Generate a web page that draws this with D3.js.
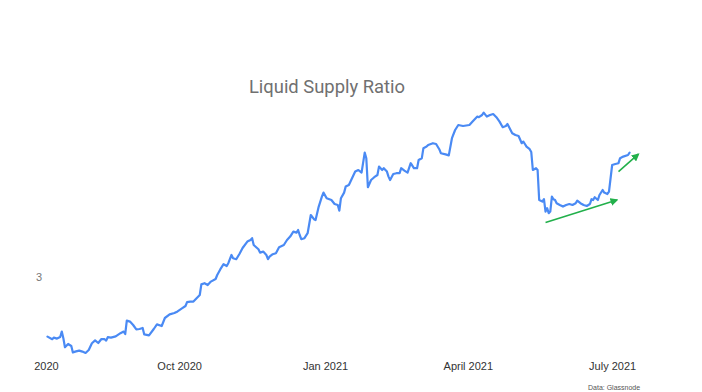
<!DOCTYPE html>
<html>
<head>
<meta charset="utf-8">
<script src="https://cdn.jsdelivr.net/npm/d3@7"></script>
<style>
  html, body { margin: 0; padding: 0; background: #ffffff; }
  svg { display: block; }
</style>
</head>
<body>
<svg id="chart" width="702" height="392"></svg>
<script>
// ---- data ----
const startDate = "2020-07-10"; // day 0 of the series
const dayOffsets = [0,3,4,6,8,9,10,11,13,15,16,18,20,22,24,26,28,30,32,34,36,37,38,40,43,46,48,49,50,52,54,56,58,60,61,64,67,69,72,74,77,80,82,85,87,88,90,92,94,96,97,99,101,103,106,107,109,111,113,114,116,117,119,121,123,126,128,129,130,133,134,136,138,139,140,142,144,146,149,151,153,155,157,158,159,160,162,164,166,168,169,171,173,174,176,179,181,183,184,185,187,188,190,192,194,196,198,200,201,202,204,206,208,209,211,212,214,215,216,218,220,222,223,225,227,229,231,233,234,236,237,239,240,243,245,247,248,251,253,255,257,259,262,266,268,271,272,274,275,277,279,281,283,285,287,289,290,293,295,297,299,300,301,302,304,305,306,308,309,310,312,313,314,315,316,317,318,319,320,321,323,325,327,329,331,333,334,336,338,340,342,343,344,345,347,348,350,351,353,354,356,358,360,361,363,366,367];
const ratioValues = [2.702,2.689,2.697,2.692,2.700,2.727,2.694,2.649,2.665,2.655,2.623,2.628,2.632,2.627,2.620,2.635,2.669,2.683,2.670,2.690,2.689,2.682,2.699,2.697,2.703,2.719,2.727,2.715,2.782,2.777,2.760,2.738,2.740,2.745,2.713,2.708,2.740,2.763,2.755,2.795,2.813,2.820,2.828,2.844,2.855,2.874,2.877,2.877,2.894,2.910,2.963,2.969,2.960,2.977,2.990,3.010,3.039,3.064,3.055,3.069,3.110,3.094,3.089,3.115,3.145,3.177,3.185,3.194,3.160,3.139,3.122,3.127,3.110,3.089,3.102,3.114,3.119,3.149,3.160,3.185,3.202,3.227,3.222,3.235,3.210,3.189,3.194,3.219,3.310,3.289,3.285,3.352,3.402,3.422,3.394,3.385,3.365,3.360,3.332,3.394,3.422,3.452,3.460,3.494,3.527,3.535,3.522,3.622,3.594,3.449,3.485,3.499,3.510,3.552,3.535,3.544,3.527,3.502,3.485,3.515,3.519,3.519,3.544,3.532,3.522,3.569,3.544,3.544,3.585,3.594,3.644,3.652,3.660,3.669,3.665,3.639,3.619,3.613,3.608,3.694,3.735,3.760,3.755,3.760,3.777,3.802,3.799,3.810,3.822,3.802,3.810,3.815,3.799,3.777,3.749,3.755,3.765,3.719,3.710,3.705,3.669,3.677,3.665,3.652,3.639,3.625,3.535,3.544,3.535,3.385,3.377,3.389,3.327,3.344,3.319,3.327,3.402,3.389,3.385,3.369,3.360,3.352,3.360,3.365,3.360,3.369,3.382,3.369,3.360,3.355,3.365,3.389,3.385,3.399,3.385,3.410,3.435,3.422,3.415,3.427,3.560,3.565,3.569,3.594,3.602,3.610,3.622];

const tickDates = ["2020-07-09","2020-10-01","2021-01-01","2021-04-01","2021-07-01"];
const tickLabels = ["2020","Oct 2020","Jan 2021","April 2021","July 2021"];
const yTickValues = [3];

// trend arrows: [startDay, endDay] and [startValue, endValue]
const arrowDays = [[314, 359], [360, 372.5]];
const arrowValues = [[3.272, 3.385], [3.527, 3.614]];

const titleText = "Liquid Supply Ratio";
const sourceText = "Data: Glassnode";

// ---- drawing ----
const W = 702, H = 392;
const margin = {left: 47.5, right: 72.4, top: 105, bottom: 35};
const parse = d3.utcParse("%Y-%m-%d");
const t0 = parse(startDate);
const dayToDate = d => new Date(t0.getTime() + d * 864e5);

const series = dayOffsets.map((d, i) => ({date: dayToDate(d), value: ratioValues[i]}));

const svg = d3.select("#chart");

const x = d3.scaleUtc()
  .domain([dayToDate(0), dayToDate(367)])
  .range([margin.left, W - margin.right]);

const y = d3.scaleLinear()
  .domain([2.6, 3.86])
  .range([H - margin.bottom, margin.top]);

// title
svg.append("text")
  .attr("x", 327)
  .attr("y", 93)
  .attr("text-anchor", "middle")
  .attr("font-family", "Roboto, 'Noto Sans', sans-serif")
  .attr("font-size", 18.4)
  .attr("fill", "#707070")
  .text(titleText);

// x axis
const xAxis = d3.axisBottom(x)
  .tickValues(tickDates.map(parse))
  .tickFormat((d, i) => tickLabels[i])
  .tickSize(0)
  .tickPadding(0);

const gx = svg.append("g")
  .attr("transform", `translate(0,${362})`)
  .call(xAxis);
gx.select(".domain").remove();
gx.selectAll("text")
  .attr("font-family", "'Liberation Sans', Arial, sans-serif")
  .attr("font-size", 11)
  .attr("fill", "#333");

// y axis
const yAxis = d3.axisLeft(y)
  .tickValues(yTickValues)
  .tickFormat(d3.format("d"))
  .tickSize(0)
  .tickPadding(2);
const gy = svg.append("g")
  .attr("transform", `translate(${44},0)`)
  .call(yAxis);
gy.select(".domain").remove();
gy.selectAll("text")
  .attr("font-family", "'Liberation Sans', Arial, sans-serif")
  .attr("font-size", 11)
  .attr("fill", "#777");

// line
const line = d3.line()
  .x(d => x(d.date))
  .y(d => y(d.value))
  .curve(d3.curveLinear);

svg.append("path")
  .datum(series)
  .attr("fill", "none")
  .attr("stroke", "#4a8af4")
  .attr("stroke-width", 2.2)
  .attr("stroke-linejoin", "round")
  .attr("stroke-linecap", "round")
  .attr("d", line);

// arrows
const defs = svg.append("defs");
defs.append("marker")
  .attr("id", "arrowhead")
  .attr("viewBox", "0 0 10 10")
  .attr("refX", 8)
  .attr("refY", 5)
  .attr("markerWidth", 5)
  .attr("markerHeight", 5)
  .attr("orient", "auto")
  .append("path")
  .attr("d", "M0,0 L10,5 L0,10 z")
  .attr("fill", "#22b04b");

arrowDays.forEach((dd, i) => {
  svg.append("line")
    .attr("x1", x(dayToDate(dd[0])))
    .attr("y1", y(arrowValues[i][0]))
    .attr("x2", x(dayToDate(dd[1])))
    .attr("y2", y(arrowValues[i][1]))
    .attr("stroke", "#22b04b")
    .attr("stroke-width", 1.6)
    .attr("marker-end", "url(#arrowhead)");
});

// source note at the bottom edge
svg.append("text")
  .attr("x", 588)
  .attr("y", 390)
  .attr("font-family", "'Liberation Sans', Arial, sans-serif")
  .attr("font-size", 7)
  .attr("fill", "#555")
  .text(sourceText);
</script>
</body>
</html>
